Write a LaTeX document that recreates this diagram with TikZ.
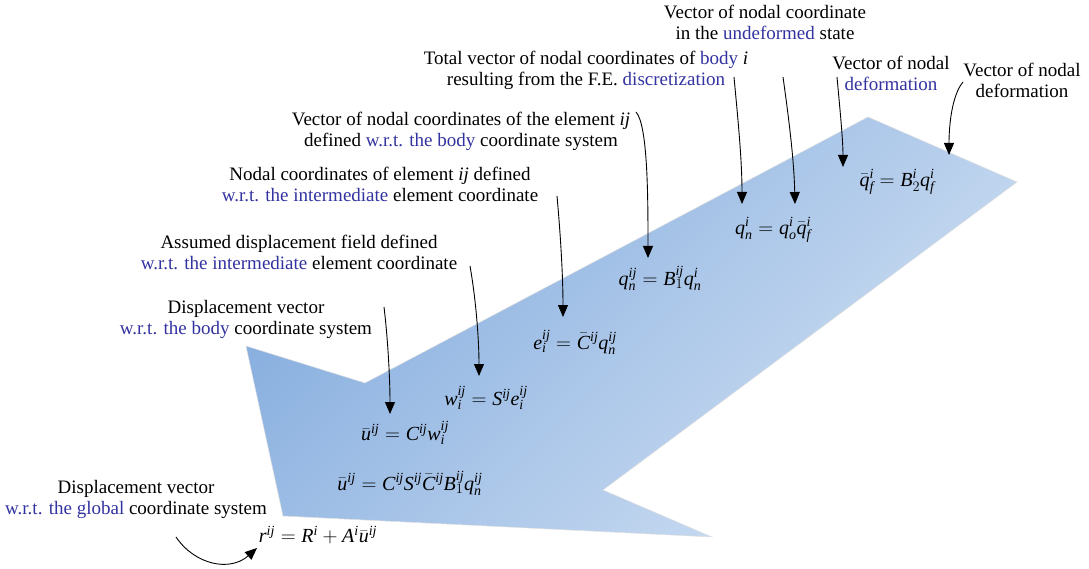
\documentclass[tikz,border=0pt]{standalone}
\usepackage{fontspec}
\setmainfont{Liberation Serif}[NFSSFamily=ltimes]
\DeclareSymbolFont{letters}{TU}{ltimes}{m}{it}
\DeclareSymbolFont{operators}{TU}{ltimes}{m}{n}
\DeclareSymbolFont{cmops}{OT1}{cmr}{m}{n}
\DeclareMathAccent{\bar}{\mathalpha}{cmops}{"16}
\usetikzlibrary{arrows.meta}
\definecolor{lblue}{RGB}{50,50,160}
\definecolor{darr}{RGB}{132,172,222}
\definecolor{larr}{RGB}{208,224,243}
\newcommand{\bl}[1]{\textcolor{lblue}{#1}}
\begin{document}
\begin{tikzpicture}[x=1pt,y=-1pt,
 lab/.style={align=center, font=\fontsize{19}{21}\selectfont, inner sep=0pt},
 eq/.style={font=\fontsize{20}{22}\selectfont, inner sep=0pt},
 pt/.style={-{Triangle[width=10pt,length=12pt]}, line width=0.9pt}]
\useasboundingbox (0,0) rectangle (1089,569);
% big arrow
\shade[top color=darr, bottom color=larr, shading angle=45, draw=black!12, line width=0.5pt]
 (246,346) -- (365,383) -- (868,117) -- (1017,182) -- (603,490) -- (712,537) -- (283,516) -- cycle;
% labels
\node[lab] (l1) at (765,22) {Vector of nodal coordinate\\in the \bl{undeformed} state};
\node[lab] (l2) at (586,70) {Total vector of nodal coordinates of \bl{body} \textit{i}\\resulting from the F.E. \bl{discretization}};
\node[lab] (l3) at (891,73) {Vector of nodal\\\bl{deformation}};
\node[lab] (l4) at (1022,80) {Vector of nodal\\deformation};
\node[lab] (l5) at (461,131) {Vector of nodal coordinates of the element \textit{ij}\\defined \bl{w.r.t. the body} coordinate system};
\node[lab] (l6) at (380,184) {Nodal coordinates of element \textit{ij} defined\\\bl{w.r.t. the intermediate} element coordinate};
\node[lab] (l7) at (299,252) {Assumed displacement field defined\\\bl{w.r.t. the intermediate} element coordinate};
\node[lab] (l8) at (246,319) {Displacement vector\\\bl{w.r.t. the body} coordinate system};
\node[lab] (l9) at (136,499) {Displacement vector\\\bl{w.r.t. the global} coordinate system};
% equations
\node[eq] (e1) at (897,182) {$\bar q_f^i = B_2^i q_f^i$};
\node[eq] (e2) at (773,230) {$q_n^i = q_o^i \bar q_f^i$};
\node[eq] (e3) at (660,278) {$q_n^{ij} = B_1^{ij} q_n^i$};
\node[eq] (e4) at (575,342) {$e_i^{ij} = \bar C^{ij} q_n^{ij}$};
\node[eq] (e5) at (486,398) {$w_i^{ij} = S^{ij} e_i^{ij}$};
\node[eq] (e6) at (405,433) {$\bar u^{ij} = C^{ij} w_i^{ij}$};
\node[eq] (e7) at (410,483) {$\bar u^{ij} = C^{ij} S^{ij} \bar C^{ij} B_1^{ij} q_n^{ij}$};
\node[eq] (e8) at (318,535) {$r^{ij} = R^i + A^i \bar u^{ij}$};
% connector end points
\coordinate (sA) at (734,77);  \coordinate (tA) at (742,204);
\coordinate (sB) at (783,77);  \coordinate (tB) at (795,204);
\coordinate (sC) at (837,77);  \coordinate (tC) at (843,167);
\coordinate (sD) at (963,82);  \coordinate (tD) at (949,155);
\coordinate (sE) at (636,112); \coordinate (tE) at (648,258);
\coordinate (sF) at (557,196); \coordinate (tF) at (563,317);
\coordinate (sG) at (470,266); \coordinate (tG) at (479,376);
\coordinate (sH) at (384,307); \coordinate (tH) at (390,414);
\coordinate (sI) at (176,537); \coordinate (tI) at (257,548);
\draw[pt] (sA) .. controls (738,120) and (742,160) .. (tA);
\draw[pt] (sB) .. controls (789,120) and (794,160) .. (tB);
\draw[pt] (sC) .. controls (840,110) and (843,140) .. (tC);
\draw[pt] (sD) .. controls (952,95) and (949,125) .. (tD);
\draw[pt] (sE) .. controls (648,125) and (648,200) .. (tE);
\draw[pt] (sF) .. controls (561,240) and (563,280) .. (tF);
\draw[pt] (sG) .. controls (476,300) and (479,340) .. (tG);
\draw[pt] (sH) .. controls (388,340) and (390,380) .. (tH);
\draw[pt] (sI) .. controls (195,565) and (230,572) .. (tI);
\end{tikzpicture}
\end{document}
